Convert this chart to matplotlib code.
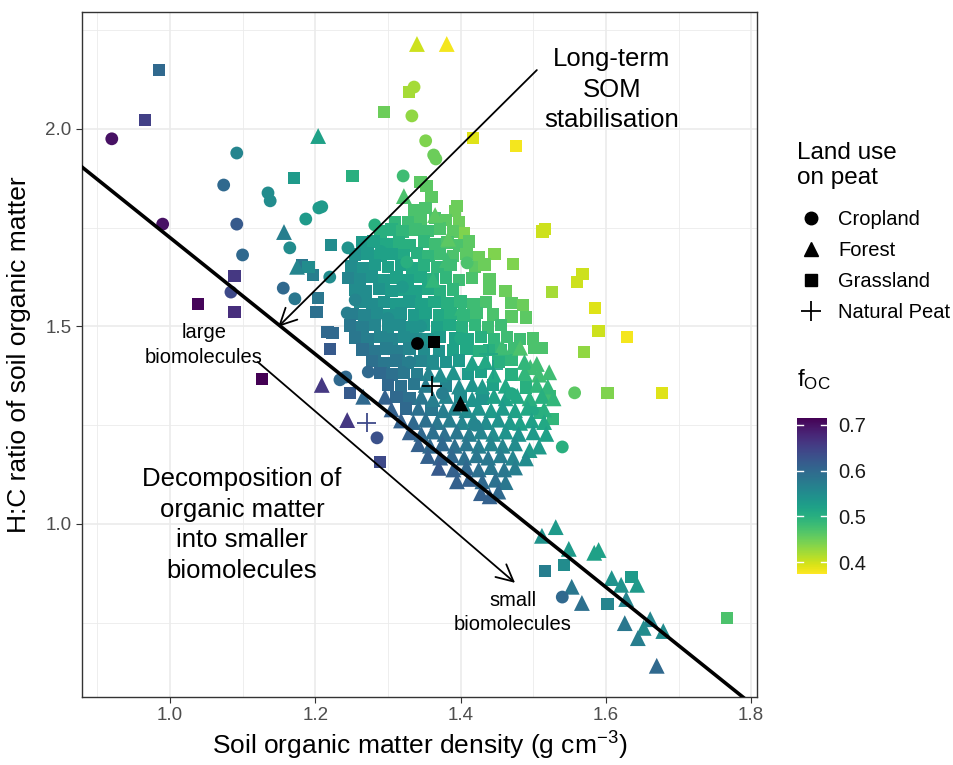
import matplotlib
matplotlib.use("Agg")
import matplotlib.pyplot as plt
from matplotlib.lines import Line2D
from matplotlib.cm import ScalarMappable
import numpy as np

plt.rcParams['font.family'] = ['Liberation Sans', 'DejaVu Sans']
plt.rcParams['mathtext.fontset'] = 'custom'
plt.rcParams['mathtext.rm'] = 'Liberation Sans'
plt.rcParams['mathtext.it'] = 'Liberation Sans:italic'

# (density, H:C, f_OC) per land use
grass_pts = [
    (0.985, 2.149, .60), (0.966, 2.023, .65), (1.171, 1.876, .53), (1.089, 1.628, .66),
    (1.039, 1.557, .71), (1.089, 1.537, .67), (1.127, 1.367, .715), (1.251, 1.881, .50),
    (1.295, 2.043, .45), (1.329, 2.094, .42), (1.417, 1.977, .39), (1.476, 1.957, .38),
    (1.516, 1.747, .40), (1.513, 1.740, .40), (1.568, 1.633, .40), (1.560, 1.613, .40),
    (1.526, 1.587, .42), (1.585, 1.547, .39), (1.590, 1.489, .40), (1.629, 1.473, .38),
    (1.570, 1.435, .43), (1.501, 1.446, .47), (1.523, 1.324, .48), (1.602, 1.332, .44),
    (1.677, 1.332, .39), (1.527, 1.266, .49), (1.509, 1.281, .50), (1.516, 0.881, .57),
    (1.542, 0.896, .55), (1.602, 0.797, .56), (1.635, 0.866, .53), (1.767, 0.762, .47),
    (1.222, 1.706, .55), (1.182, 1.656, .58), (1.197, 1.630, .57), (1.204, 1.572, .58),
    (1.202, 1.537, .59), (1.217, 1.486, .60), (1.224, 1.484, .60), (1.220, 1.443, .62),
    (1.248, 1.332, .62), (1.289, 1.157, .64), (1.191, 1.651, .55),
    (1.345, 1.865, .46), (1.353, 1.855, .46), (1.360, 1.828, .46), (1.336, 1.795, .47),
    (1.352, 1.800, .47), (1.395, 1.805, .45), (1.392, 1.792, .45), (1.398, 1.763, .45),
    (1.310, 1.765, .49), (1.328, 1.765, .48), (1.345, 1.770, .47), (1.365, 1.775, .47),
    (1.380, 1.770, .46), (1.405, 1.735, .44), (1.290, 1.740, .50), (1.305, 1.745, .50),
    (1.320, 1.740, .49), (1.338, 1.745, .48), (1.355, 1.742, .48), (1.372, 1.748, .47),
    (1.390, 1.740, .46),
    (1.265, 1.712, .53), (1.280, 1.715, .52), (1.298, 1.708, .51), (1.315, 1.712, .50),
    (1.330, 1.705, .50), (1.350, 1.715, .49), (1.365, 1.708, .48), (1.382, 1.712, .47),
    (1.398, 1.705, .47), (1.412, 1.715, .46),
    (1.255, 1.682, .54), (1.272, 1.685, .53), (1.290, 1.678, .52), (1.306, 1.683, .52),
    (1.322, 1.680, .51), (1.340, 1.686, .50), (1.356, 1.678, .49), (1.372, 1.684, .48),
    (1.390, 1.678, .47), (1.408, 1.684, .46), (1.425, 1.676, .45), (1.447, 1.683, .44),
    (1.250, 1.652, .55), (1.266, 1.648, .54), (1.282, 1.655, .53), (1.300, 1.650, .52),
    (1.318, 1.656, .52), (1.334, 1.648, .51), (1.350, 1.654, .50), (1.368, 1.650, .49),
    (1.386, 1.656, .48), (1.420, 1.650, .46), (1.433, 1.657, .45), (1.472, 1.658, .44),
    (1.245, 1.622, .56), (1.262, 1.620, .55), (1.278, 1.626, .54), (1.295, 1.618, .53),
    (1.312, 1.624, .52), (1.328, 1.618, .52), (1.345, 1.625, .51), (1.362, 1.620, .50),
    (1.380, 1.624, .49), (1.398, 1.618, .48), (1.416, 1.622, .47), (1.440, 1.620, .46),
    (1.255, 1.592, .55), (1.270, 1.588, .55), (1.288, 1.595, .54), (1.305, 1.590, .53),
    (1.322, 1.594, .52), (1.338, 1.588, .52), (1.355, 1.595, .51), (1.372, 1.590, .50),
    (1.390, 1.594, .49), (1.440, 1.595, .46), (1.462, 1.590, .45),
    (1.262, 1.562, .55), (1.278, 1.556, .55), (1.295, 1.562, .54), (1.312, 1.557, .53),
    (1.330, 1.563, .53), (1.346, 1.556, .52), (1.364, 1.562, .51), (1.382, 1.558, .50),
    (1.400, 1.563, .49), (1.418, 1.556, .48), (1.435, 1.562, .47), (1.470, 1.560, .46),
    (1.486, 1.555, .45),
    (1.252, 1.532, .57), (1.268, 1.528, .56), (1.285, 1.534, .55), (1.302, 1.528, .54),
    (1.318, 1.533, .54), (1.336, 1.528, .53), (1.352, 1.534, .52), (1.370, 1.528, .51),
    (1.386, 1.533, .50), (1.404, 1.528, .49), (1.422, 1.534, .48), (1.445, 1.530, .47),
    (1.470, 1.525, .46), (1.490, 1.523, .46),
    (1.248, 1.502, .58), (1.265, 1.498, .57), (1.282, 1.504, .56), (1.300, 1.498, .55),
    (1.316, 1.503, .55), (1.334, 1.497, .54), (1.350, 1.503, .53), (1.368, 1.498, .52),
    (1.385, 1.504, .51), (1.402, 1.498, .50), (1.420, 1.503, .49), (1.438, 1.497, .48),
    (1.456, 1.503, .48),
    (1.255, 1.472, .58), (1.272, 1.468, .57), (1.290, 1.474, .56), (1.306, 1.468, .56),
    (1.322, 1.473, .55), (1.338, 1.468, .55), (1.355, 1.468, .54), (1.372, 1.474, .53),
    (1.392, 1.470, .52), (1.410, 1.468, .51), (1.428, 1.474, .50), (1.446, 1.468, .49),
    (1.464, 1.473, .48), (1.482, 1.468, .48), (1.500, 1.470, .47),
    (1.265, 1.442, .59), (1.282, 1.438, .58), (1.298, 1.444, .57), (1.315, 1.438, .57),
    (1.330, 1.444, .56), (1.350, 1.440, .55), (1.370, 1.438, .54), (1.390, 1.440, .52),
    (1.408, 1.444, .51), (1.425, 1.438, .50), (1.440, 1.440, .50), (1.456, 1.440, .49),
    (1.474, 1.444, .48), (1.512, 1.445, .47),
    (1.278, 1.412, .59), (1.295, 1.408, .58), (1.312, 1.414, .58), (1.328, 1.408, .57),
    (1.345, 1.413, .56), (1.362, 1.412, .55), (1.380, 1.410, .54), (1.398, 1.414, .53),
    (1.452, 1.410, .50), (1.470, 1.415, .49),
    (1.290, 1.382, .60), (1.306, 1.378, .59), (1.322, 1.383, .58), (1.340, 1.378, .57),
    (1.410, 1.380, .53), (1.428, 1.384, .52), (1.470, 1.378, .50),
    (1.300, 1.352, .60), (1.318, 1.348, .59), (1.336, 1.354, .58), (1.380, 1.350, .56),
    (1.445, 1.352, .52), (1.490, 1.345, .50),
    (1.312, 1.322, .60), (1.330, 1.318, .59), (1.400, 1.322, .55), (1.430, 1.318, .54),
    (1.325, 1.292, .60), (1.360, 1.290, .58),
]

forest_pts = [
    (1.340, 2.215, .40), (1.381, 2.215, .38), (1.204, 1.982, .52), (1.157, 1.739, .57),
    (1.175, 1.651, .56), (1.209, 1.352, .66), (1.266, 1.322, .60), (1.244, 1.263, .66),
    (1.531, 0.992, .53), (1.512, 0.970, .54), (1.549, 0.937, .53), (1.584, 0.927, .52),
    (1.590, 0.934, .52), (1.553, 0.841, .58), (1.567, 0.800, .59), (1.608, 0.863, .54),
    (1.621, 0.846, .54), (1.643, 0.846, .53), (1.628, 0.810, .56), (1.626, 0.749, .58),
    (1.661, 0.759, .56), (1.652, 0.737, .55), (1.644, 0.711, .57), (1.679, 0.729, .55),
    (1.670, 0.641, .60),
    (1.322, 1.830, .47), (1.365, 1.782, .46), (1.383, 1.722, .46), (1.381, 1.668, .48),
    (1.362, 1.618, .49), (1.402, 1.547, .49), (1.457, 1.448, .48), (1.482, 1.446, .47),
    (1.496, 1.397, .48), (1.482, 1.256, .52), (1.500, 1.296, .51), (1.495, 1.187, .53),
    (1.362, 1.410, .55), (1.416, 1.408, .52), (1.434, 1.412, .51), (1.488, 1.410, .49),
    (1.505, 1.405, .48),
    (1.356, 1.382, .56), (1.372, 1.378, .55), (1.390, 1.384, .54), (1.446, 1.378, .51),
    (1.488, 1.382, .49), (1.508, 1.378, .48), (1.522, 1.384, .48),
    (1.352, 1.352, .57), (1.398, 1.348, .55), (1.416, 1.354, .54), (1.430, 1.348, .53),
    (1.462, 1.350, .51), (1.505, 1.352, .49), (1.520, 1.348, .49),
    (1.296, 1.322, .61), (1.346, 1.322, .58), (1.362, 1.316, .57), (1.380, 1.324, .56),
    (1.416, 1.316, .54), (1.446, 1.324, .52), (1.462, 1.318, .52), (1.478, 1.324, .51),
    (1.495, 1.318, .50), (1.512, 1.324, .50), (1.528, 1.318, .49),
    (1.305, 1.290, .61), (1.342, 1.294, .59), (1.376, 1.288, .57), (1.392, 1.294, .56),
    (1.408, 1.288, .55), (1.425, 1.294, .54), (1.442, 1.288, .53), (1.458, 1.294, .53),
    (1.475, 1.288, .52), (1.492, 1.294, .51), (1.515, 1.290, .50),
    (1.318, 1.262, .61), (1.335, 1.258, .60), (1.352, 1.264, .59), (1.368, 1.258, .58),
    (1.385, 1.264, .57), (1.402, 1.258, .56), (1.418, 1.264, .55), (1.435, 1.258, .55),
    (1.452, 1.264, .54), (1.468, 1.258, .53), (1.498, 1.262, .52), (1.515, 1.258, .51),
    (1.330, 1.232, .61), (1.346, 1.228, .60), (1.362, 1.234, .59), (1.378, 1.228, .59),
    (1.395, 1.234, .58), (1.412, 1.228, .57), (1.428, 1.234, .56), (1.445, 1.228, .55),
    (1.462, 1.234, .54), (1.480, 1.228, .54), (1.500, 1.232, .53), (1.518, 1.228, .52),
    (1.342, 1.202, .61), (1.358, 1.198, .60), (1.375, 1.204, .60), (1.392, 1.198, .59),
    (1.408, 1.204, .58), (1.425, 1.198, .57), (1.442, 1.204, .56), (1.458, 1.198, .56),
    (1.475, 1.204, .55), (1.508, 1.196, .53),
    (1.355, 1.172, .61), (1.372, 1.168, .61), (1.388, 1.174, .60), (1.405, 1.168, .59),
    (1.422, 1.174, .58), (1.438, 1.168, .58), (1.455, 1.174, .57), (1.472, 1.168, .56),
    (1.490, 1.166, .55),
    (1.370, 1.142, .62), (1.390, 1.138, .61), (1.408, 1.144, .60), (1.425, 1.138, .59),
    (1.442, 1.144, .58), (1.460, 1.138, .58), (1.475, 1.143, .57),
    (1.395, 1.108, .61), (1.412, 1.114, .61), (1.430, 1.108, .60), (1.448, 1.112, .59),
    (1.462, 1.106, .58),
    (1.428, 1.078, .61), (1.440, 1.070, .61), (1.452, 1.082, .60),
]

crop_pts = [
    (0.920, 1.975, .70), (1.092, 1.939, .56), (1.074, 1.858, .60), (1.135, 1.838, .55),
    (1.138, 1.818, .55), (1.187, 1.772, .53), (0.990, 1.759, .70), (1.092, 1.759, .62),
    (1.100, 1.681, .60), (1.084, 1.587, .64), (1.165, 1.699, .55), (1.156, 1.597, .60),
    (1.172, 1.570, .58), (1.336, 2.106, .42), (1.333, 2.033, .43), (1.352, 1.970, .44),
    (1.363, 1.934, .45), (1.366, 1.924, .45), (1.321, 1.881, .48), (1.209, 1.803, .53),
    (1.205, 1.800, .53), (1.245, 1.699, .54), (1.220, 1.625, .55), (1.234, 1.365, .60),
    (1.242, 1.372, .60), (1.273, 1.385, .60), (1.244, 1.534, .57), (1.285, 1.218, .63),
    (1.557, 1.332, .46), (1.540, 1.195, .50), (1.540, 0.815, .60), (1.282, 1.757, .50),
    (1.326, 1.663, .50), (1.409, 1.661, .47), (1.255, 1.567, .56), (1.320, 1.600, .53),
    (1.300, 1.520, .55), (1.345, 1.500, .54), (1.400, 1.470, .51), (1.330, 1.410, .57),
    (1.375, 1.330, .57), (1.420, 1.250, .56), (1.470, 1.330, .51), (1.290, 1.690, .52),
]

peat_pts = [(1.271, 1.256, .64), (1.438, 1.430, .51), (1.445, 1.392, .52)]

# group means (drawn in black)
mean_x = [1.340, 1.399, 1.363, 1.361]
mean_y = [1.458, 1.306, 1.461, 1.349]
mean_marker = ['o', '^', 's', '+']

# fitted line and annotation arrows
line_a, line_b = 3.2, -1.475
arrow_up = ((1.505, 2.149), (1.149, 1.499))
arrow_down = ((1.121, 1.410), (1.475, 0.851))

fig = plt.figure(figsize=(9.54, 7.65), dpi=100)
ax = fig.add_axes([82/954, 1 - 697/765, 675/954, 685/765])
norm = plt.Normalize(0.374, 0.715)
cmap = plt.get_cmap('viridis_r')


def draw(pts, marker, s, lw=0):
    x, y, f = np.array(pts).T
    ax.scatter(x, y, c=f, cmap=cmap, norm=norm, marker=marker, s=s,
               linewidths=lw, zorder=3)


draw(grass_pts, 's', 80)
draw(forest_pts, '^', 130)
draw(crop_pts, 'o', 85)
draw(peat_pts, '+', 190, lw=1.3)

for mx, my, mk in zip(mean_x, mean_y, mean_marker):
    if mk == '+':
        ax.scatter(mx, my, marker=mk, s=200, color='black', linewidths=1.3, zorder=4)
    else:
        ax.scatter(mx, my, marker=mk, s=130 if mk == '^' else 85,
                   color='black', linewidths=0, zorder=4)

xs = np.array([0.85, 1.85])
ax.plot(xs, line_a + line_b * xs, color='black', lw=2.6, zorder=5)

for (x0, y0), (x1, y1) in (arrow_up, arrow_down):
    ax.annotate('', xy=(x1, y1), xytext=(x0, y0), zorder=5,
                arrowprops=dict(arrowstyle='->,head_length=0.6,head_width=0.3',
                                lw=1.3, color='black', mutation_scale=20,
                                shrinkA=0, shrinkB=0))

ax.text(1.608, 2.099, 'Long-term\nSOM\nstabilisation', fontsize=18.5,
        ha='center', va='center', linespacing=1.35)
ax.text(1.099, 0.997, 'Decomposition of\norganic matter\ninto smaller\nbiomolecules',
        fontsize=18.5, ha='center', va='center', linespacing=1.35)
ax.text(1.047, 1.453, 'large\nbiomolecules', fontsize=14.5, ha='center',
        va='center', linespacing=1.35)
ax.text(1.472, 0.775, 'small\nbiomolecules', fontsize=14.5, ha='center',
        va='center', linespacing=1.35)

ax.set_xlim(0.879, 1.808)
ax.set_ylim(0.562, 2.296)
ax.set_xticks([1.0, 1.2, 1.4, 1.6, 1.8])
ax.set_xticks([0.9, 1.1, 1.3, 1.5, 1.7], minor=True)
ax.set_yticks([1.0, 1.5, 2.0])
ax.set_yticks([0.75, 1.25, 1.75, 2.25], minor=True)
ax.grid(which='major', color='#EBEBEB', lw=1.2)
ax.grid(which='minor', color='#EBEBEB', lw=0.6)
ax.set_axisbelow(True)
for sp in ax.spines.values():
    sp.set_color('#333333')
    sp.set_linewidth(1.0)
ax.tick_params(which='major', length=4, color='#333333', labelcolor='#4D4D4D',
               labelsize=13.5)
ax.tick_params(which='minor', length=0)
ax.set_xlabel('Soil organic matter density (g cm$^{-3}$)', fontsize=19, labelpad=4)
ax.set_ylabel('H:C ratio of soil organic matter', fontsize=19, labelpad=10)

# shape legend
fig.text(797/954, 1 - 142/765, 'Land use\non peat', fontsize=17.5, va='top',
         ha='left')
handles = [Line2D([], [], ls='', marker='o', color='black', markersize=9),
           Line2D([], [], ls='', marker='^', color='black', markersize=10),
           Line2D([], [], ls='', marker='s', color='black', markersize=9),
           Line2D([], [], ls='', marker='+', color='black', markersize=14,
                  markeredgewidth=1.3)]
fig.legend(handles, ['Cropland', 'Forest', 'Grassland', 'Natural Peat'],
           loc='upper left', bbox_to_anchor=(788/954, 1 - 202/765), frameon=False,
           fontsize=14.5, handletextpad=0.6, labelspacing=0.6,
           borderaxespad=0, handlelength=1.5)

# colour bar
cax = fig.add_axes([797/954, 1 - 574/765, 30/954, 156/765])
cb = fig.colorbar(ScalarMappable(norm=norm, cmap=cmap), cax=cax)
cb.outline.set_visible(False)
cb.set_ticks([0.4, 0.5, 0.6, 0.7])
cax.tick_params(length=0, labelsize=14.5, labelcolor='#1A1A1A', pad=8)
for v in [0.4, 0.5, 0.6, 0.7]:
    cax.plot([0, 0.2], [v, v], color='white', lw=1, transform=cax.get_yaxis_transform())
    cax.plot([0.8, 1], [v, v], color='white', lw=1, transform=cax.get_yaxis_transform())
fig.text(797/954, 1 - 380/765, 'f$_{\\mathrm{OC}}$', fontsize=17.5, va='center')

fig.savefig('out.png', dpi=100)
